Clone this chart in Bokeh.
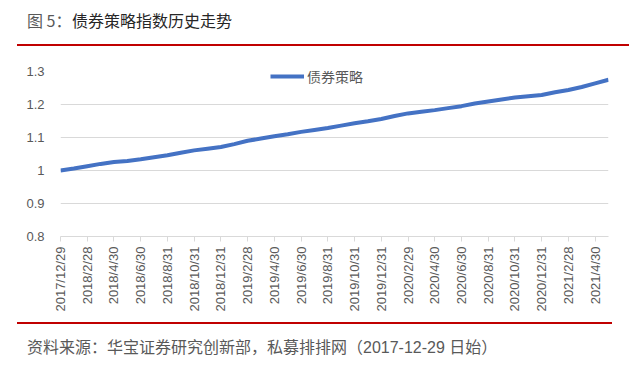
from bokeh.plotting import figure
from bokeh.layouts import column
from bokeh.models import (Range1d, FixedTicker, CustomJSTickFormatter, Div,
                          Legend, LegendItem, ColumnDataSource)
from bokeh.embed import file_html
from bokeh.resources import INLINE

# ---- data ----
dates = ["2017/12/29", "2018/1/31", "2018/2/28", "2018/3/31", "2018/4/30", "2018/5/31",
         "2018/6/30", "2018/7/31", "2018/8/31", "2018/9/30", "2018/10/31", "2018/11/30",
         "2018/12/31", "2019/1/31", "2019/2/28", "2019/3/31", "2019/4/30", "2019/5/31",
         "2019/6/30", "2019/7/31", "2019/8/31", "2019/9/30", "2019/10/31", "2019/11/30",
         "2019/12/31", "2020/1/31", "2020/2/29", "2020/3/31", "2020/4/30", "2020/5/31",
         "2020/6/30", "2020/7/31", "2020/8/31", "2020/9/30", "2020/10/31", "2020/11/30",
         "2020/12/31", "2021/1/31", "2021/2/28", "2021/3/31", "2021/4/30", "2021/5/31"]
index_values = [1.000, 1.006, 1.013, 1.020, 1.026, 1.029, 1.034, 1.040, 1.046, 1.054,
                1.061, 1.066, 1.071, 1.080, 1.090, 1.097, 1.104, 1.110, 1.117, 1.123,
                1.129, 1.136, 1.143, 1.149, 1.156, 1.165, 1.173, 1.178, 1.183, 1.189,
                1.195, 1.203, 1.209, 1.215, 1.221, 1.225, 1.229, 1.237, 1.244, 1.253,
                1.264, 1.275]
series_name = "债券策略"
y_ticks = [0.8, 0.9, 1.0, 1.1, 1.2, 1.3]
title_prefix = "图 5："
title_main = "债券策略指数历史走势"
footer_text = "资料来源：华宝证券研究创新部，私募排排网（2017-12-29 日始）"

x_idx = list(range(len(dates)))
src = ColumnDataSource(dict(x=x_idx, y=index_values, d=dates))

CJK = "Noto Sans CJK SC"
NUM = "Liberation Sans"
GRAY = "#595959"
GRID = "#D9D9D9"
RED = "#C00000"
W = 629

# ---- header ----
header = Div(width=W, height=46, margin=(0, 0, 0, 0), text=(
    '<div style="position:relative;width:629px;height:46px;">'
    f'<span style="position:absolute;left:27px;top:9px;font-family:\'{CJK}\';'
    f'font-size:16px;line-height:22px;color:{GRAY};white-space:pre;">{title_prefix}</span>'
    f'<span style="position:absolute;left:72px;top:9px;font-family:\'{CJK}\';'
    f'font-size:16px;line-height:22px;color:#262626;white-space:nowrap;">{title_main}</span>'
    f'<div style="position:absolute;left:17px;width:612px;top:44px;height:2px;'
    f'background:{RED};"></div></div>'))

# ---- chart ----
p = figure(width=W, height=276, output_backend="svg", toolbar_location=None,
           x_range=Range1d(0, len(dates) - 1), y_range=Range1d(0.8, 1.3),
           min_border_left=60, min_border_right=21, min_border_top=25,
           min_border_bottom=86, margin=(0, 0, 0, 0))
p.outline_line_color = None
p.background_fill_color = "white"
p.border_fill_color = "white"

p.yaxis.ticker = FixedTicker(ticks=y_ticks)
p.yaxis.formatter = CustomJSTickFormatter(code="return String(Math.round(tick*10)/10);")
p.yaxis.axis_line_color = None
p.yaxis.major_tick_line_color = None
p.yaxis.minor_tick_line_color = None
p.yaxis.major_label_text_font = NUM
p.yaxis.major_label_text_font_size = "13px"
p.yaxis.major_label_text_color = GRAY
p.yaxis.major_label_standoff = 10

p.xaxis.ticker = FixedTicker(ticks=x_idx[::2])
p.xaxis.major_label_overrides = {i: dates[i] for i in x_idx[::2]}
p.xaxis.major_label_orientation = 3.14159265 / 2
p.xaxis.axis_line_color = GRID
p.xaxis.major_tick_line_color = GRID
p.xaxis.major_tick_out = 5
p.xaxis.major_tick_in = 0
p.xaxis.minor_tick_line_color = None
p.xaxis.major_label_text_font = NUM
p.xaxis.major_label_text_font_size = "13px"
p.xaxis.major_label_text_color = GRAY
p.xaxis.major_label_standoff = 5

p.xgrid.grid_line_color = None
p.ygrid.grid_line_color = GRID
p.ygrid.grid_line_width = 1

r = p.line("x", "y", source=src, line_color="#4472C4", line_width=4, line_join="round")

legend = Legend(items=[LegendItem(label=series_name, renderers=[r])],
                location=(210, 149), padding=2, margin=0, border_line_color=None,
                background_fill_alpha=0, glyph_width=34, glyph_height=20,
                label_height=22, label_standoff=3, label_width=72,
                label_text_font=CJK, label_text_font_size="14px",
                label_text_line_height=1.4, label_text_baseline="middle",
                label_text_color=GRAY)
p.add_layout(legend)

# ---- footer ----
footer = Div(width=W, height=46, margin=(0, 0, 0, 0), text=(
    '<div style="position:relative;width:629px;height:46px;">'
    f'<div style="position:absolute;left:17px;width:595px;top:0px;height:2px;'
    f'background:{RED};"></div>'
    f'<span style="position:absolute;left:27px;top:15px;font-family:\'{NUM}\',\'{CJK}\';'
    f'font-size:16px;line-height:22px;color:{GRAY};white-space:nowrap;">{footer_text}</span>'
    '</div>'))

layout = column(header, p, footer, spacing=0, margin=(0, 0, 0, 0))
open("out.html", "w").write(file_html(layout, INLINE))
